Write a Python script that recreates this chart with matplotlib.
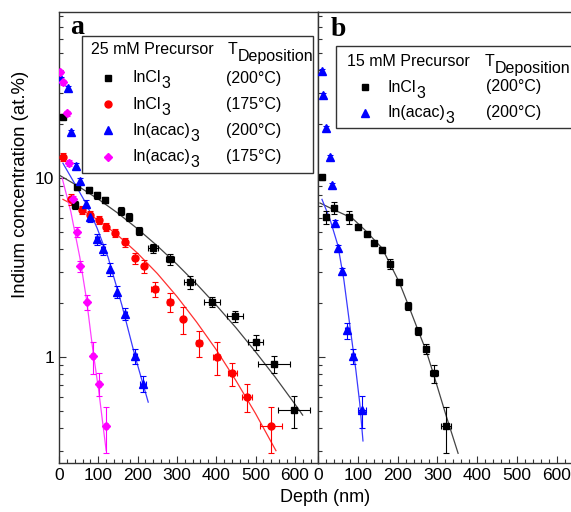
import matplotlib
matplotlib.use("Agg")
import matplotlib.pyplot as plt
import numpy as np
from matplotlib.patches import Rectangle
from matplotlib.lines import Line2D

plt.rcParams['font.family'] = ['Liberation Sans', 'DejaVu Sans']

# ---------------- data (panel a: 25 mM precursor) ----------------
a_incl200_x = [10, 41, 46, 77, 97, 118, 157, 177, 204, 239, 282, 333, 390, 448, 501, 547, 598]
a_incl200_y = [22.0, 7.1, 8.9, 8.6, 8.0, 7.55, 6.55, 6.05, 5.05, 4.06, 3.53, 2.62, 2.03, 1.69, 1.21, 0.91, 0.505]
a_incl200_xerr = [0, 0, 0, 0, 0, 0, 3, 3, 4, 13, 11, 14, 20, 20, 19, 40, 40]
a_incl200_yerr = [0.03, 0.05, 0.04, 0.04, 0.04, 0.04, 0.05, 0.05, 0.05, 0.06, 0.07, 0.08, 0.06, 0.07, 0.10, 0.11, 0.20]
a_incl200_fit_x = [0, 50, 100, 150, 200, 250, 300, 350, 400, 450, 500, 550, 600, 620]
a_incl200_fit_y = [10.4, 8.97, 7.62, 6.36, 5.20, 4.18, 3.30, 2.56, 1.95, 1.46, 1.07, 0.773, 0.547, 0.474]

a_incl175_x = [10, 30, 58, 79, 101, 119, 143, 169, 194, 216, 243, 282, 315, 357, 401, 441, 478, 540]
a_incl175_y = [13.1, 7.6, 6.62, 6.22, 5.83, 5.33, 4.93, 4.39, 3.57, 3.22, 2.40, 2.03, 1.63, 1.20, 1.0, 0.81, 0.60, 0.41]
a_incl175_xerr = [0, 3, 3, 3, 3, 3, 3, 4, 4, 5, 8, 8, 5, 8, 8, 12, 12, 28]
a_incl175_yerr = [0.05, 0.07, 0.05, 0.05, 0.05, 0.05, 0.05, 0.06, 0.07, 0.08, 0.10, 0.12, 0.17, 0.17, 0.21, 0.15, 0.18, 0.29]
a_incl175_fit_x = [10, 50, 100, 150, 200, 250, 300, 350, 400, 450, 500, 552]
a_incl175_fit_y = [7.6, 6.83, 5.81, 4.78, 3.80, 2.93, 2.18, 1.57, 1.10, 0.74, 0.484, 0.30]

a_acac200_x = [5, 22, 31, 43, 54, 69, 79, 97, 112, 130, 148, 169, 193, 214]
a_acac200_y = [35.7, 31.8, 18.1, 11.7, 9.6, 7.16, 6.05, 4.56, 4.01, 3.1, 2.31, 1.74, 1.01, 0.71]
a_acac200_xerr = [0, 0, 0, 0, 0, 0, 0, 5, 5, 3, 3, 3, 5, 8]
a_acac200_yerr = [0.03, 0.03, 0.03, 0.04, 0.04, 0.05, 0.06, 0.07, 0.07, 0.08, 0.08, 0.08, 0.10, 0.10]
a_acac200_fit_x = [10, 40, 71, 97, 125, 160, 193, 227]
a_acac200_fit_y = [12.1, 9.3, 7.07, 5.25, 3.6, 1.95, 1.02, 0.56]

a_acac175_x = [3, 10, 20, 26, 36, 46, 54, 71, 86, 101, 119]
a_acac175_y = [39.1, 34.3, 23.0, 12.2, 7.6, 5.0, 3.22, 2.03, 1.01, 0.71, 0.41]
a_acac175_xerr = [0, 0, 0, 0, 0, 0, 3, 4, 5, 5, 5]
a_acac175_yerr = [0.03, 0.03, 0.03, 0.04, 0.05, 0.06, 0.07, 0.10, 0.20, 0.15, 0.29]
a_acac175_fit_x = [8, 30, 53, 70, 86, 101, 120]
a_acac175_fit_y = [10.0, 6.5, 3.6, 2.1, 1.1, 0.65, 0.30]

# ---------------- data (panel b: 15 mM precursor) ----------------
b_incl200_x = [10, 20, 40, 78, 101, 123, 141, 161, 181, 204, 227, 252, 272, 292, 322]
b_incl200_y = [10.1, 6.05, 6.8, 6.05, 5.33, 4.87, 4.33, 3.96, 3.31, 2.62, 1.93, 1.40, 1.11, 0.81, 0.41]
b_incl200_xerr = [0, 5, 5, 5, 0, 0, 0, 0, 0, 0, 0, 0, 0, 10, 12]
b_incl200_yerr = [0.03, 0.08, 0.08, 0.08, 0.03, 0.03, 0.03, 0.04, 0.06, 0.04, 0.05, 0.05, 0.06, 0.12, 0.29]
b_incl200_fit_x = [5, 43, 86, 118, 161, 204, 227, 252, 272, 292, 322, 352]
b_incl200_fit_y = [7.25, 6.6, 5.97, 5.12, 4.06, 2.62, 1.95, 1.40, 1.08, 0.78, 0.47, 0.29]

b_acac200_x = [10, 13, 20, 30, 35, 43, 51, 60, 73, 88, 111]
b_acac200_y = [39.6, 29.1, 19.0, 13.1, 9.1, 5.6, 4.06, 3.02, 1.41, 1.01, 0.505]
b_acac200_xerr = [0, 0, 0, 0, 0, 0, 0, 0, 5, 5, 10]
b_acac200_yerr = [0.03, 0.03, 0.03, 0.03, 0.03, 0.04, 0.04, 0.04, 0.10, 0.10, 0.20]
b_acac200_fit_x = [10, 30, 50, 65, 80, 95, 105, 113]
b_acac200_fit_y = [7.6, 5.9, 4.2, 2.7, 1.5, 0.85, 0.55, 0.34]

xticks = [0, 100, 200, 300, 400, 500, 600]
ylims = (0.256, 84.6)

W, H = 571, 512
fig = plt.figure(figsize=(W / 100, H / 100), dpi=100)
axa = fig.add_axes([59 / W, 1 - 463 / H, (318 - 59) / W, (463 - 12) / H])
axb = fig.add_axes([318 / W, 1 - 463 / H, (571 - 318) / W + 0.003, (463 - 12) / H])

def series(ax, x, y, xe, ye, fx, fy, color, lcolor, marker, ms):
    ax.plot(fx, fy, '-', color=lcolor, lw=0.9, zorder=2)
    y = np.array(y); ye = np.array(ye) * y
    ax.errorbar(x, y, yerr=ye, xerr=xe, fmt=marker, color=color, ms=ms,
                ecolor=color, elinewidth=0.8, capsize=2, capthick=0.8, zorder=3,
                mec=color, mfc=color)

series(axa, a_incl200_x, a_incl200_y, a_incl200_xerr, a_incl200_yerr,
       a_incl200_fit_x, a_incl200_fit_y, 'black', '#444444', 's', 5)
series(axa, a_incl175_x, a_incl175_y, a_incl175_xerr, a_incl175_yerr,
       a_incl175_fit_x, a_incl175_fit_y, 'red', '#ff3030', 'o', 5)
series(axa, a_acac200_x, a_acac200_y, a_acac200_xerr, a_acac200_yerr,
       a_acac200_fit_x, a_acac200_fit_y, 'blue', '#3a3aff', '^', 5.5)
series(axa, a_acac175_x, a_acac175_y, a_acac175_xerr, a_acac175_yerr,
       a_acac175_fit_x, a_acac175_fit_y, 'magenta', '#ff40ff', 'D', 4.5)

series(axb, b_incl200_x, b_incl200_y, b_incl200_xerr, b_incl200_yerr,
       b_incl200_fit_x, b_incl200_fit_y, 'black', '#444444', 's', 5)
series(axb, b_acac200_x, b_acac200_y, b_acac200_xerr, b_acac200_yerr,
       b_acac200_fit_x, b_acac200_fit_y, 'blue', '#3a3aff', '^', 5.5)

for ax, xl in ((axa, (0, 659)), (axb, (0, 637))):
    ax.set_yscale('log')
    ax.set_ylim(*ylims)
    ax.set_xlim(*xl)
    ax.set_xticks(xticks)
    ax.set_xticks(np.arange(0, 660, 20), minor=True)
    ax.tick_params(which='both', direction='in', top=False, right=False,
                   labelsize=12.5, width=0.8, color='#333333')
    ax.tick_params(which='major', length=5)
    ax.tick_params(which='minor', length=3)
    for s in ax.spines.values():
        s.set_linewidth(1.0)
        s.set_color('#333333')

axa.set_yticks([1, 10])
axa.set_yticklabels(['1', '10'])
axb.set_yticks([1, 10])
axb.set_yticklabels([])
axb.yaxis.set_minor_formatter(matplotlib.ticker.NullFormatter())
axa.yaxis.set_minor_formatter(matplotlib.ticker.NullFormatter())

fig.text(21 / W, 1 - 184 / H, 'Indium concentration (at.%)', rotation=90,
         ha='center', va='center', fontsize=13.4)
fig.text(325 / W, 1 - 498 / H, 'Depth (nm)', ha='center', va='center', fontsize=13)

fig.text(77 / W, 1 - 27 / H, 'a', ha='center', va='center', fontsize=20,
         fontweight='bold', family='Liberation Serif')
fig.text(338 / W, 1 - 29 / H, 'b', ha='center', va='center', fontsize=20,
         fontweight='bold', family='Liberation Serif')

renderer = fig.canvas.get_renderer()
TZ = 8

def fp(x, y):
    return (x / W, 1 - y / H)

def sub_text(x, y, main, sub, size, dy):
    t = fig.text(*fp(x, y), main, ha='left', va='center', fontsize=size, zorder=TZ)
    bb = t.get_window_extent(renderer)
    fig.text(bb.x1 / W + 0.5 / W, 1 - (y + dy) / H, sub, ha='left', va='center',
             fontsize=size, zorder=TZ)

def legend_box(x0, y0, x1, y1):
    r = Rectangle(fp(x0, y1), (x1 - x0) / W, (y1 - y0) / H, transform=fig.transFigure,
                  fill=True, facecolor='white', edgecolor='#333333', lw=1.0, zorder=5)
    fig.add_artist(r)

legend_box(82, 36, 313, 173)
fs = 11.5
fig.text(*fp(91, 50), '25 mM Precursor', ha='left', va='center', fontsize=fs, zorder=TZ)
sub_text(228, 50, 'T', 'Deposition', fs, 7)
rows_a = [('s', 'black', 'InCl', '(200°C)', 5), ('o', 'red', 'InCl', '(175°C)', 5),
          ('^', 'blue', 'In(acac)', '(200°C)', 5.5), ('D', 'magenta', 'In(acac)', '(175°C)', 4.5)]
for i, (m, c, name, temp, ms) in enumerate(rows_a):
    yy = 78 + i * 26.2
    fig.add_artist(Line2D([108 / W], [1 - yy / H], marker=m, color=c, ms=ms,
                          transform=fig.transFigure, zorder=TZ))
    sub_text(132, yy, name, '3', fs, 6)
    fig.text(*fp(226, yy), temp, ha='left', va='center', fontsize=fs, zorder=TZ)

legend_box(336, 46, 575, 128)
fig.text(*fp(347, 62), '15 mM Precursor', ha='left', va='center', fontsize=fs, zorder=TZ)
sub_text(485, 62, 'T', 'Deposition', fs, 7)
rows_b = [('s', 'black', 'InCl', '(200°C)', 5), ('^', 'blue', 'In(acac)', '(200°C)', 5.5)]
for i, (m, c, name, temp, ms) in enumerate(rows_b):
    yy = 87 + i * 25.5
    fig.add_artist(Line2D([365 / W], [1 - yy / H], marker=m, color=c, ms=ms,
                          transform=fig.transFigure, zorder=TZ))
    sub_text(387, yy, name, '3', fs, 6)
    fig.text(*fp(486, yy), temp, ha='left', va='center', fontsize=fs, zorder=TZ)

fig.savefig('out.png', dpi=100)
